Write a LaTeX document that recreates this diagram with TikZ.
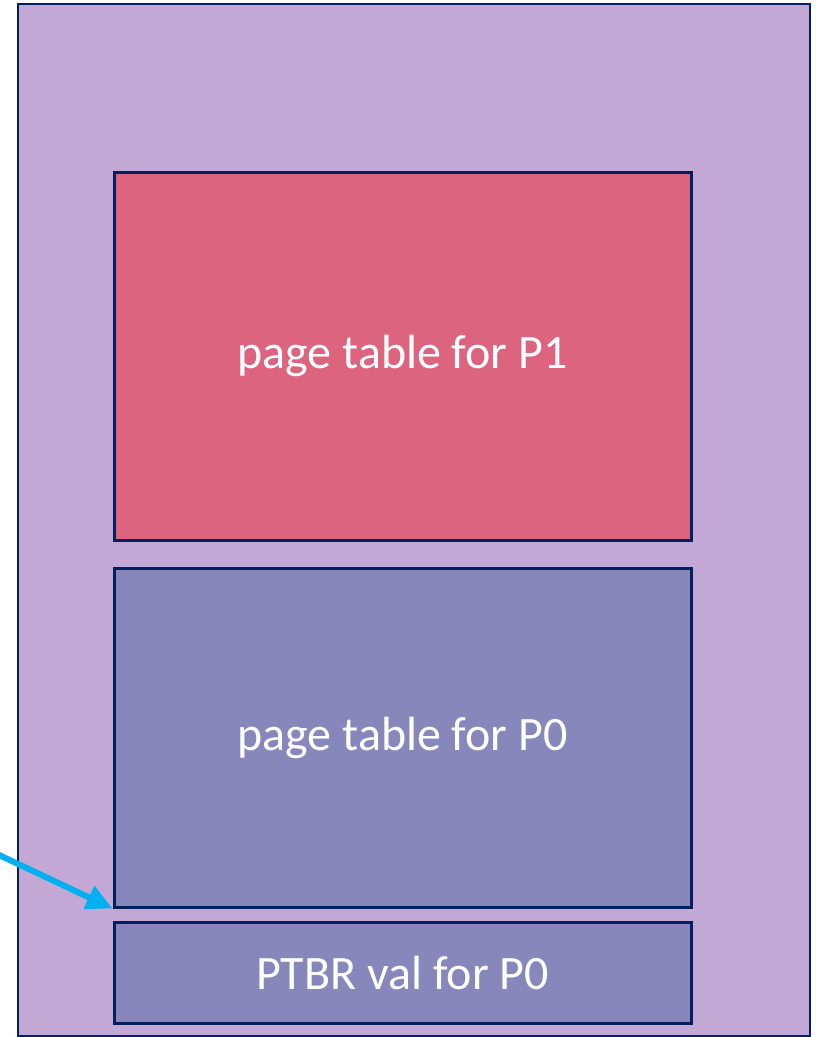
\documentclass[tikz,border=0pt]{standalone}
\usepackage{fontspec}
\setmainfont{Carlito}
\usetikzlibrary{arrows.meta}
\definecolor{memfill}{RGB}{195,168,213}
\definecolor{ptred}{RGB}{221,100,127}
\definecolor{ptblue}{RGB}{135,135,188}
\definecolor{navy}{RGB}{0,32,96}
\definecolor{ptrcyan}{RGB}{0,176,240}
\tikzset{
  membox/.style={draw=navy, line width=2.5pt, fill=memfill, inner sep=0pt},
  tablebox/.style={draw=navy, line width=3pt, inner sep=0pt, text=white,
    font=\fontsize{48}{52}\selectfont},
  pointer/.style={draw=ptrcyan, line width=6pt, -{Triangle[length=26pt,width=24pt]}}
}
\begin{document}
\begin{tikzpicture}[x=1pt,y=-1pt]
  \useasboundingbox (0,0) rectangle (816,1037);
  \clip (0,0) rectangle (816,1037);
  % physical memory
  \node[membox, minimum width=792pt, minimum height=1032pt] (mem) at (414,520) {};
  % page tables
  \node[tablebox, fill=ptred, minimum width=577pt, minimum height=368pt]
    (p1) at (402.5,356) {\raisebox{-3pt}{page table for P1}};
  \node[tablebox, fill=ptblue, minimum width=577pt, minimum height=339pt]
    (p0) at (402.5,737.5) {\raisebox{-3pt}{page table for P0}};
  \node[tablebox, fill=ptblue, minimum width=577pt, minimum height=101pt]
    (ptbr) at (402.5,972.5) {\raisebox{-2pt}{PTBR val for P0}};
  % register pointing at the base of P0's table
  \coordinate (src) at (-20,846);
  \draw[pointer] (src) -- (p0.south west);
\end{tikzpicture}
\end{document}
